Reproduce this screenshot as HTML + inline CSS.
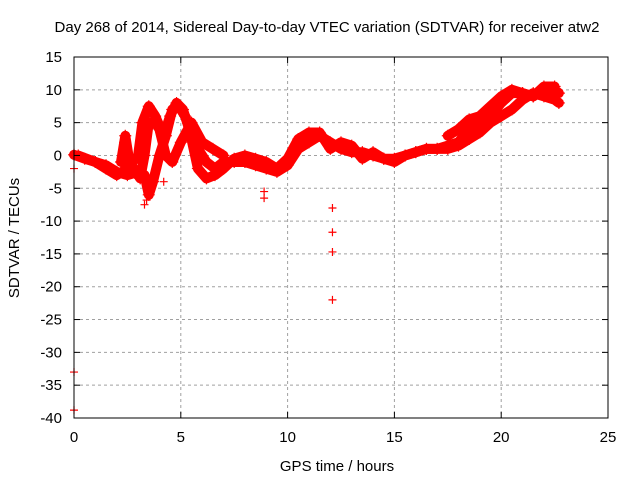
<!DOCTYPE html>
<html><head><meta charset="utf-8"><style>
body{margin:0;background:#fff;}
svg{font-family:"Liberation Sans",sans-serif;}
</style></head><body>
<svg id="chart" width="640" height="480">
<rect width="640" height="480" fill="#fff"/>
<text x="327" y="32" font-size="15" text-anchor="middle">Day 268 of 2014, Sidereal Day-to-day VTEC variation (SDTVAR) for receiver atw2</text>
<g id="grid"></g><g id="marks"></g><g id="axes"></g>
<text x="337" y="471" font-size="15" text-anchor="middle">GPS time / hours</text>
<text transform="translate(19,238) rotate(-90)" font-size="15" text-anchor="middle">SDTVAR / TECUs</text>
</svg>
<script>
const xTicks=[0,5,10,15,20,25];
const yTicks=[15,10,5,0,-5,-10,-15,-20,-25,-30,-35,-40];
const traceA_t=[0,0.5,1,1.5,2,2.5,3,3.3,3.5,3.7,4,4.3,4.6,4.9,5.2,5.5,5.8,6.2,6.6,7,7.5,8,8.5,9,9.5,10,10.5,11,11.5,12,12.5,13,13.5,14,14.5,15,15.5,16,16.5,17,17.5,18,18.5,19,19.5,20,20.5,21,21.5,22,22.5,22.7];
const traceA_v=[0.1,-0.5,-1,-1.5,-2.5,-3,-2.5,-3,-6,-4,0,3,7,7.5,6,3,1,-1,-2,-1,-1,-1,-1.5,-2,-2.5,-1.5,1,2,3,2,1,0.5,0.5,0,-0.5,-0.5,0,0.5,1,1,1.5,2,4,5,6,8,9.5,9.5,9,10,10,9.5];
const traceB_t=[0.2,1,1.5,2,2.5,3,3.2,3.5,3.8,4.2,4.5,4.8,5.1,5.4,5.8,6.2,6.6,7,7.5,8,8.5,9,9.5,10,10.5,11,11.5,12,12.5,13,13.5,14,14.5,15,15.5,16,16.5,17,17.5,18,18.5,19,19.5,20,20.5,21,21.5,22,22.5,22.7];
const traceB_v=[0,-1,-2,-3,-2,0,5,7.5,6,3,6,8,7,4,-2,-3.5,-3,-2,-0.5,0,-0.5,-1,-2,-0.5,2.5,3.5,3.5,1,2,1.5,-0.5,0.5,-0.5,-1,0,0.5,1,1,1,1.5,2.5,3.5,5,6,7,8.5,9.5,9,8.5,8];
const traceC1_t=[2.2,2.4,2.6,2.9,3.1,3.3,3.5,3.8,4,4.3,4.6,5,5.5,6,6.5,7];
const traceC1_v=[-1,3,-1,-2.5,-3.5,0,5,5,4,0,-1,2,5,2,1,0];
const traceC2_t=[17.5,18,18.5,19,19.5,20,20.5,21,21.5,22,22.5];
const traceC2_v=[3,4,5.5,6,7.5,9,10,9.5,9,10.5,10.5];
const outlier_t=[12.1,12.1,12.1,12.1,0,0,0,8.9,8.9,3.3,3.4,2.3,2.4,4.2,4.3];
const outlier_v=[-8,-11.7,-14.7,-22,-33,-38.8,-2,-6.5,-5.5,-7.5,-6.8,2,3,-4,4];
const L=74,R=608,T=57,B=418;
const xs=t=>L+(t-0)/25*(R-L);
const ys=v=>T+(15-v)/55*(B-T);
const NS="http://www.w3.org/2000/svg";
function mk(tag,attrs,parent){const e=document.createElementNS(NS,tag);for(const k in attrs)e.setAttribute(k,attrs[k]);parent.appendChild(e);return e;}
const grid=document.getElementById('grid'),axes=document.getElementById('axes'),marks=document.getElementById('marks');
xTicks.forEach(t=>{
 if(t>0&&t<25){const g=mk('line',{x1:xs(t),x2:xs(t),y1:T,y2:B,stroke:'#a0a0a0','stroke-dasharray':'3,3'},grid);
 
 }
 mk('line',{x1:xs(t),x2:xs(t),y1:B,y2:B-6,stroke:'#000'},axes);
 mk('line',{x1:xs(t),x2:xs(t),y1:T,y2:T+6,stroke:'#000'},axes);
 const tx=mk('text',{x:xs(t),y:B+24,'font-size':15,'text-anchor':'middle'},axes);tx.textContent=t;
 
 
});
yTicks.forEach(v=>{
 if(v<15&&v>-40){const g=mk('line',{x1:L,x2:R,y1:ys(v),y2:ys(v),stroke:'#a0a0a0','stroke-dasharray':'3,3'},grid);
 
 }
 mk('line',{x1:L,x2:L+6,y1:ys(v),y2:ys(v),stroke:'#000'},axes);
 mk('line',{x1:R,x2:R-6,y1:ys(v),y2:ys(v),stroke:'#000'},axes);
 const tx=mk('text',{x:L-12,y:ys(v)+5,'font-size':15,'text-anchor':'end'},axes);tx.textContent=v;
 
 
});
const fr=mk('rect',{x:L,y:T,width:R-L,height:B-T,fill:'none',stroke:'#000'},axes);


function plus(x,y,s){mk('path',{d:`M${x-s},${y}H${x+s}M${x},${y-s}V${y+s}`,stroke:'#f00','stroke-width':1.2,fill:'none'},marks);}
function trace(ts,vs,name){
 const d=ts.map((t,i)=>(i?'L':'M')+xs(t).toFixed(1)+','+ys(vs[i]).toFixed(1)).join('');
 const p=mk('path',{d:d,stroke:'#f00','stroke-width':10,fill:'none','stroke-linejoin':'round','stroke-linecap':'round'},marks);
 
 
 ts.forEach((t,i)=>plus(xs(t),ys(vs[i]),6));
}
trace(traceA_t,traceA_v,'sdtvar-band-a');
trace(traceB_t,traceB_v,'sdtvar-band-b');
trace(traceC1_t,traceC1_v,'sdtvar-band-c1');
trace(traceC2_t,traceC2_v,'sdtvar-band-c2');
outlier_t.forEach((t,i)=>{plus(xs(t),ys(outlier_v[i]),4);});
</script>
</body></html>
